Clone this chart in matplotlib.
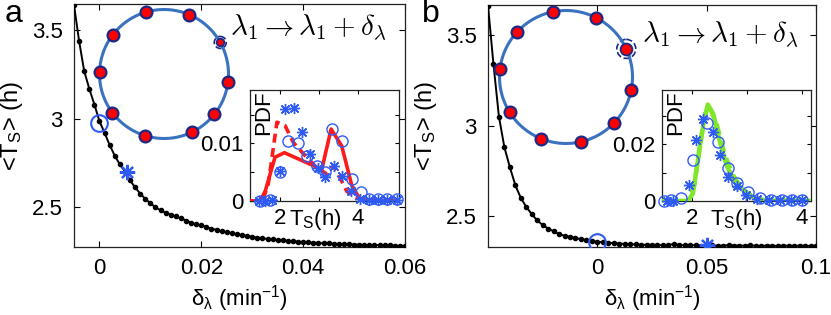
import numpy as np
import matplotlib
matplotlib.use('Agg')
import matplotlib.pyplot as plt
from matplotlib.patches import Circle

plt.rcParams['font.family'] = ['Liberation Sans', 'DejaVu Sans']

# ---- main curves: mean T_S vs delta_lambda ----
dl_a = np.linspace(-0.005, 0.06, 66)
ts_a = [3.645, 3.44, 3.27, 3.17, 3.08, 2.985, 2.92, 2.85, 2.79, 2.74,
        2.70, 2.65, 2.61, 2.575, 2.545, 2.52, 2.497, 2.48, 2.466, 2.455,
        2.445, 2.435, 2.422, 2.41, 2.40, 2.395, 2.386, 2.375, 2.37, 2.36,
        2.355, 2.35, 2.344, 2.34, 2.335, 2.33, 2.325, 2.322, 2.317, 2.315,
        2.312, 2.31, 2.307, 2.305, 2.303, 2.300, 2.298, 2.297, 2.295, 2.293,
        2.292, 2.290, 2.290, 2.288, 2.287, 2.286, 2.285, 2.284, 2.283, 2.284,
        2.282, 2.281, 2.282, 2.280, 2.278, 2.276]

dl_b = np.linspace(-0.05, 0.1, 61)
ts_b = [3.665, 3.34, 3.05, 2.88, 2.77, 2.67, 2.60, 2.55, 2.51, 2.475,
        2.45, 2.43, 2.415, 2.40, 2.39, 2.385, 2.378, 2.371, 2.366, 2.362,
        2.357, 2.354, 2.352, 2.349, 2.347, 2.345, 2.344, 2.342, 2.341, 2.340,
        2.341, 2.339, 2.338, 2.340, 2.344, 2.339, 2.337, 2.338, 2.337, 2.336,
        2.336, 2.337, 2.335, 2.336, 2.338, 2.336, 2.335, 2.336, 2.337, 2.335,
        2.334, 2.336, 2.335, 2.334, 2.336, 2.335, 2.334, 2.336, 2.335, 2.334,
        2.336]

# highlighted points (circle, star)
circ_a = (0.0, 2.976)
star_a = (0.0055, 2.70)
circ_b = (0.0, 2.357)
star_b = (0.05, 2.34)

# ---- inset a: PDF of T_S ----
ca_x = [1.49, 1.74, 2.0, 2.21, 2.47, 2.68, 2.94, 3.15, 3.34, 3.60, 3.85, 4.08, 4.28, 4.52, 4.74, 4.99]
ca_y = [0.0, 0.0001, 0.005, 0.0104, 0.010, 0.0079, 0.0061, 0.005, 0.0126, 0.0104, 0.0039, 0.0015, 0.0004, 0.0003, 0.0003, 0.0003]
sa_x = [1.45, 1.62, 1.8, 2.0, 2.13, 2.37, 2.57, 2.77, 2.97, 3.15, 3.39, 3.58, 3.82, 4.05, 4.28, 4.52, 4.74, 4.99]
sa_y = [0, 0, 0.0001, 0.0053, 0.016, 0.0161, 0.012, 0.0082, 0.0058, 0.0042, 0.0061, 0.0044, 0.0017, 0.0004, 0.0002, 0.0002, 0.0002, 0.0002]
ra_x = [1.23, 1.49, 1.62, 1.87, 2.11, 3.07, 3.31, 3.58, 3.84, 4.05, 4.35, 5.05]
ra_y = [0, 0, 0.0017, 0.0076, 0.0084, 0.0055, 0.0125, 0.0096, 0.0027, 0.0003, 0, 0]
rda_x = [1.23, 1.55, 1.7, 1.92, 2.13, 2.34, 2.64, 2.94, 3.20, 3.37, 3.54, 3.71, 3.92, 4.2, 5.05]
rda_y = [0, 0, 0.003, 0.0137, 0.0131, 0.0102, 0.0079, 0.0058, 0.0047, 0.0061, 0.004, 0.0017, 0.0006, 0.0002, 0.0002]

# ---- inset b ----
cb_x = [1.5, 1.63, 1.81, 2.02, 2.27, 2.48, 2.66, 2.81, 3.02, 3.24, 3.43, 3.63, 3.81, 3.99]
cb_y = [0, 0.0002, 0.001, 0.0145, 0.0274, 0.0209, 0.0116, 0.0063, 0.003, 0.001, 0.0005, 0.0005, 0.0005, 0.0005]
sb_x = [1.55, 1.66, 1.95, 2.07, 2.21, 2.39, 2.51, 2.65, 2.81, 2.99, 3.18, 3.4, 3.6, 3.8, 4.0]
sb_y = [0, 0, 0.0057, 0.0213, 0.0288, 0.0241, 0.0162, 0.0086, 0.0051, 0.0022, 0.0007, 0.0003, 0.0003, 0.0003, 0.0003]
gb_x = [1.46, 1.93, 2.02, 2.11, 2.21, 2.29, 2.39, 2.51, 2.63, 2.78, 2.96, 3.15, 3.33, 4.16]
gb_y = [0, 0, 0.0026, 0.0142, 0.0271, 0.0339, 0.0306, 0.0207, 0.0125, 0.0067, 0.0032, 0.0008, 0.0002, 0]
gdb_x = [1.46, 1.95, 2.05, 2.15, 2.25, 2.32, 2.45, 2.6, 2.75, 2.9, 3.1, 3.3, 4.16]
gdb_y = [0, 0, 0.006, 0.02, 0.031, 0.033, 0.027, 0.016, 0.009, 0.0045, 0.0015, 0.0003, 0]

# ring node angles (deg), the 2nd node is the perturbed one
ring_ang_a = [-6.7, 29.3, 67, 106, 142.5, 178, 217, 252.5, 295.4, 321.5]
ring_ang_b = [-11, 25, 63, 101, 137, 173, 212, 248, 283, 316]

W, H = 831, 315
fig = plt.figure(figsize=(W / 100, H / 100), dpi=100)

blue = '#2f5bf5'
ringc = '#3a72c0'
navy = '#1c2a85'
FS = 16


def px_axes(l, r, t, b):
    return fig.add_axes([l / W, 1 - b / H, (r - l) / W, (b - t) / H])


def style(ax):
    ax.tick_params(direction='in', top=True, right=True, length=4, width=0.8,
                   labelsize=FS, pad=8)
    for s in ax.spines.values():
        s.set_linewidth(0.9)
        s.set_color('#222222')


def main_panel(ax, x, y, circ, star, xlim, ylim, xt):
    ax.plot(x, y, '-', color='black', lw=1.4, marker='o', ms=3, zorder=3)
    ax.plot(*circ, 'o', mfc='none', mec=blue, ms=12, mew=1.5, zorder=4)
    ax.plot(*star, marker=(8, 2, 0), color=blue, ms=11, mew=1.6, ls='none', zorder=4)
    ax.set_xlim(*xlim)
    ax.set_ylim(*ylim)
    ax.set_xticks(xt)
    ax.set_xticklabels(['%g' % v for v in xt])
    ax.set_yticks([2.5, 3, 3.5])
    ax.set_yticklabels(['2.5', '3', '3.5'])
    style(ax)
    ax.set_xlabel(r'$\mathregular{\delta_\lambda}$ (min$\mathregular{^{-1}}$)', fontsize=FS, labelpad=3)
    ax.set_ylabel(r'<$\mathregular{T_S}$> (h)', fontsize=FS + 1, labelpad=5)


axa = px_axes(74, 405, 4, 247)
main_panel(axa, dl_a, ts_a, circ_a, star_a, (-0.005, 0.06), (2.272, 3.65), [0, 0.02, 0.04, 0.06])
axb = px_axes(488, 816, 5, 247)
main_panel(axb, dl_b, ts_b, circ_b, star_b, (-0.05, 0.1), (2.328, 3.668), [0, 0.05, 0.1])

fig.text(14 / W, 1 - 22 / H, 'a', fontsize=23, ha='center', va='baseline')
fig.text(431 / W, 1 - 22 / H, 'b', fontsize=23, ha='center', va='baseline')

# ring diagrams overlay
ov = fig.add_axes([0, 0, 1, 1])
ov.set_xlim(0, W)
ov.set_ylim(H, 0)
ov.axis('off')
ov.patch.set_alpha(0)
for (cx, cy, r, angs, hl_r, hl_ms) in [(164, 74, 64.5, ring_ang_a, 6, 5.5),
                                        (566, 77, 66.5, ring_ang_b, 9.5, 8.5)]:
    t = np.linspace(0, 2 * np.pi, 300)
    ov.plot(cx + r * np.cos(t), cy - r * np.sin(t), color=ringc, lw=2.2)
    a = np.radians(angs)
    nx = cx + r * np.cos(a)
    ny = cy - r * np.sin(a)
    ov.plot(np.delete(nx, 1), np.delete(ny, 1), 'o', mfc='#ff0000', mec=navy, ms=8.5, mew=1.6, ls='none')
    ov.plot(nx[1], ny[1], 'o', mfc='#ff0000', mec=navy, ms=hl_ms, mew=1.3)
    ov.add_patch(Circle((nx[1], ny[1]), hl_r, fill=False, ec=navy, ls='--', lw=1.2))

# lambda annotation
for x0, y0 in [(308, 28), (720, 35)]:
    fig.text(x0 / W, 1 - y0 / H, r'$\lambda_1 \rightarrow \lambda_1 + \delta_\lambda$',
             fontsize=21, math_fontfamily='cm', ha='center', va='center')


def inset(ax, xlim, ylim, yt, ytl, lab_x):
    ax.set_xlim(*xlim)
    ax.set_ylim(*ylim)
    ax.set_xticks([2, 3, 4])
    ax.set_xticklabels(['2', '', '4'])
    ax.set_yticks(yt)
    ax.set_yticklabels(ytl)
    style(ax)
    ax.tick_params(length=3, pad=5)
    ax.set_xlabel(r'$\mathregular{T_S}$(h)', fontsize=FS)
    ax.xaxis.set_label_coords(lab_x, -0.05)
    ax.xaxis.label.set_va('top')
    ax.text(0.02, 1.0, 'PDF', transform=ax.transAxes, rotation=90, fontsize=FS,
            ha='left', va='top')


ia = px_axes(250, 399, 90, 201)
ia.plot(ra_x, ra_y, '-', color='#ff1a1a', lw=2.6, zorder=3)
ia.plot(rda_x, rda_y, '--', color='#ff1a1a', lw=2.6, dashes=(2.5, 1.5), zorder=3)
ia.plot(ca_x, ca_y, 'o', mfc='none', mec=blue, ms=8, mew=1.0, zorder=4, clip_on=False)
ia.plot(sa_x, sa_y, marker=(8, 2, 0), color=blue, ms=8, mew=1.0, ls='none', zorder=4, clip_on=False)
inset(ia, (1.23, 5.05), (0, 0.0193), [0, 0.005, 0.01, 0.015], ['0', '', '0.01', ''], 0.44)

ib = px_axes(662, 811, 90, 201)
ib.plot(gb_x, gb_y, '-', color='#80e62a', lw=3.2, zorder=3)
ib.plot(gdb_x, gdb_y, '--', color='#80e62a', lw=3.2, dashes=(2.5, 1.5), zorder=3)
ib.plot(cb_x, cb_y, 'o', mfc='none', mec=blue, ms=8, mew=1.0, zorder=4, clip_on=False)
ib.plot(sb_x, sb_y, marker=(8, 2, 0), color=blue, ms=8, mew=1.0, ls='none', zorder=4, clip_on=False)
inset(ib, (1.46, 4.16), (0, 0.039), [0, 0.01, 0.02, 0.03], ['0', '', '0.02', ''], 0.50)

fig.savefig('out.png', dpi=100)
